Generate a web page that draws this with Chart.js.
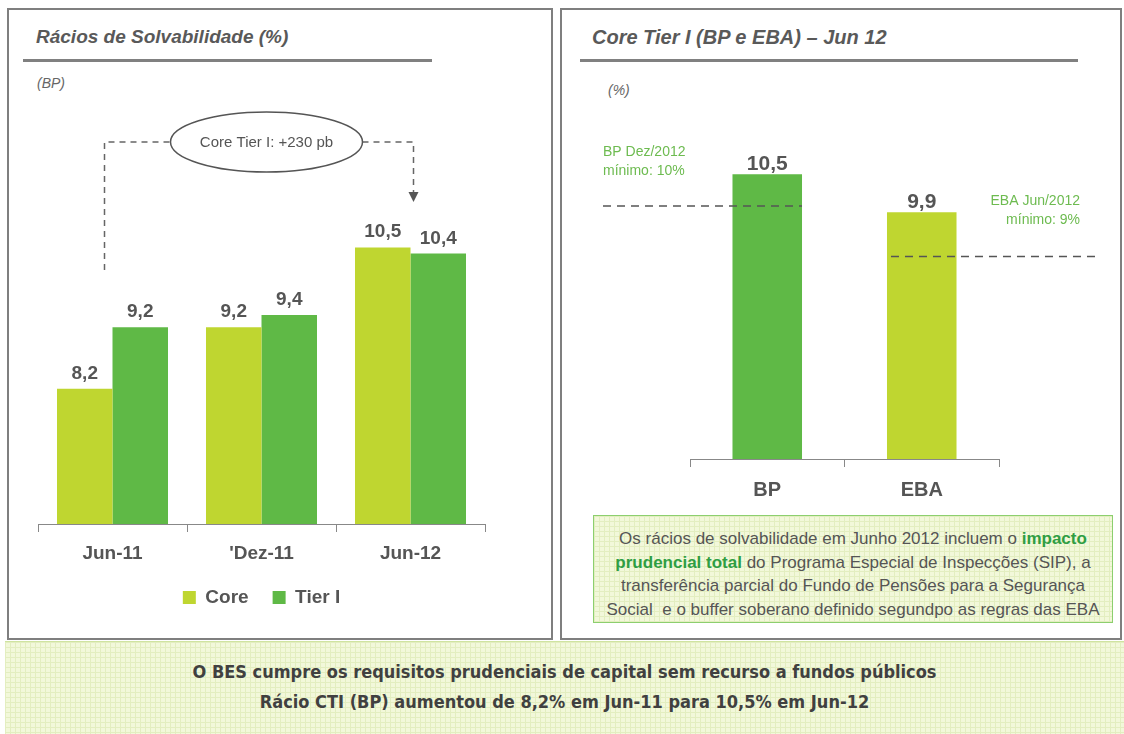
<!DOCTYPE html>
<html>
<head>
<meta charset="utf-8">
<script src="https://cdn.jsdelivr.net/npm/chart.js@4.4.0/dist/chart.umd.min.js"></script>
<style>
  body { margin: 0; width: 1124px; height: 734px; position: relative; overflow: hidden; background: #fff;
         font-family: "Liberation Sans", Arial, sans-serif; color: #595959; }
  .panel { position: absolute; border: 2px solid #7f7f7f; box-sizing: border-box; }
  .title { position: absolute; font-weight: bold; font-style: italic; font-size: 19px; line-height: 20px; white-space: nowrap; color: #595959; }
  .rule { position: absolute; height: 3px; background: #808080; }
  .unit { position: absolute; font-style: italic; font-size: 14px; line-height: 16px; color: #666; }
  canvas { position: absolute; }
  .grid-bg { background-color: #f2f8da;
             background-image: linear-gradient(#e3eec0 1px, transparent 1px), linear-gradient(90deg, #e3eec0 1px, transparent 1px);
             background-size: 5px 5px; }
  #note { position: absolute; left: 593px; top: 515px; width: 520px; height: 108px; box-sizing: border-box;
          border: 1px solid #8ccf6e; text-align: center; font-size: 17px; line-height: 23.7px; padding-top: 11px; color: #555; white-space: nowrap; }
  #note b { color: #2f9e44; }
  #footer { position: absolute; left: 5px; top: 641px; width: 1119px; height: 93px; box-sizing: border-box;
            border-top: 1px solid #cfe3a0; text-align: center; color: #404040; white-space: nowrap;
            font-family: "Liberation Sans Narrow", "DejaVu Sans Condensed", sans-serif; font-weight: bold; font-size: 18px; }
  #footer div { position: absolute; left: 0; width: 100%; }
</style>
</head>
<body>
<div class="panel" style="left:7px;top:8px;width:546px;height:632px"></div>
<div class="panel" style="left:560px;top:8px;width:562px;height:632px"></div>

<div class="title" style="left:36px;top:27px">Rácios de Solvabilidade (%)</div>
<div class="rule" style="left:23px;top:59px;width:409px"></div>
<div class="unit" style="left:37px;top:75px">(BP)</div>

<div class="title" style="left:592px;top:27px;font-size:20px">Core Tier I (BP e EBA) – Jun 12</div>
<div class="rule" style="left:580px;top:59px;width:498px"></div>
<div class="unit" style="left:608px;top:82px">(%)</div>

<canvas id="solvChart" width="544" height="540" style="left:8px;top:90px"></canvas>
<canvas id="ctiChart" width="560" height="410" style="left:561px;top:100px"></canvas>

<div id="note" class="grid-bg">
  Os rácios de solvabilidade em Junho 2012 incluem o <b>impacto</b><br>
  <b>prudencial total</b> do Programa Especial de Inspecções (SIP), a<br>
  transferência parcial do Fundo de Pensões para a Segurança<br>
  Social&nbsp; e o buffer soberano definido segundpo as regras das EBA
</div>

<div id="footer" class="grid-bg">
  <div style="top:19px">O BES cumpre os requisitos prudenciais de capital sem recurso a fundos públicos</div>
  <div style="top:49px">Rácio CTI (BP) aumentou de 8,2% em Jun-11 para 10,5% em Jun-12</div>
</div>

<script>
// left chart: solvency ratios (BP)
const periods = ["Jun-11", "'Dez-11", "Jun-12"];
const coreRatio = [8.2, 9.2, 10.5];
const tier1Ratio = [9.2, 9.4, 10.4];

// right chart: Core Tier I, Jun 12
const ctiCategories = ["BP", "EBA"];
const ctiValues = [10.5, 9.9];
const ctiMinLevels = [10, 9.2]; // dashed minimum lines, level as drawn in the original

const CORE_GREEN = "#bfd630";
const TIER_GREEN = "#5fb946";
const LABEL_GREEN = "#6dbb50";
const GREY = "#555";

const fmt = (v) => v.toFixed(1).replace(".", ",");

// numbers above each bar
const valueLabels = {
  id: "valueLabels",
  afterDatasetsDraw(chart, args, opts) {
    const ctx = chart.ctx;
    ctx.save();
    ctx.font = opts.font;
    ctx.fillStyle = GREY;
    ctx.textAlign = "center";
    ctx.textBaseline = "alphabetic";
    chart.data.datasets.forEach((ds, i) => {
      chart.getDatasetMeta(i).data.forEach((bar, j) => {
        ctx.fillText(fmt(ds.data[j]), bar.x, bar.y - opts.gap);
      });
    });
    ctx.restore();
  },
};

// ellipse + dashed arrow "Core Tier I: +230 pb"
const connector = {
  id: "connector",
  afterDraw(chart) {
    const { ctx, scales } = chart;
    const xl = scales.x.getPixelForValue(0) - 8;
    const xr = scales.x.getPixelForValue(2) + 3;
    const cx = scales.x.getPixelForValue(1) + 5;
    const cy = 52, rx = 96, ry = 30;
    const tip = 112;
    ctx.save();
    ctx.strokeStyle = "#666";
    ctx.lineWidth = 1.5;
    ctx.setLineDash([6, 5]);
    ctx.beginPath();
    ctx.moveTo(xl, 180);
    ctx.lineTo(xl, cy);
    ctx.lineTo(cx - rx, cy);
    ctx.moveTo(cx + rx, cy);
    ctx.lineTo(xr, cy);
    ctx.lineTo(xr, tip - 9);
    ctx.stroke();
    ctx.setLineDash([]);
    ctx.fillStyle = "#555";
    ctx.beginPath();
    ctx.moveTo(xr - 5, tip - 10);
    ctx.lineTo(xr + 5, tip - 10);
    ctx.lineTo(xr, tip);
    ctx.closePath();
    ctx.fill();
    ctx.beginPath();
    ctx.ellipse(cx, cy, rx, ry, 0, 0, Math.PI * 2);
    ctx.fillStyle = "#fff";
    ctx.fill();
    ctx.strokeStyle = "#555";
    ctx.stroke();
    ctx.fillStyle = GREY;
    ctx.font = "15px 'Liberation Sans', Arial";
    ctx.textAlign = "center";
    ctx.textBaseline = "middle";
    ctx.fillText("Core Tier I: +230 pb", cx, cy + 1);
    ctx.restore();
  },
};

// dashed minimum levels and their notes
const minLines = {
  id: "minLines",
  afterDatasetsDraw(chart) {
    const { ctx, chartArea, scales } = chart;
    const bars = chart.getDatasetMeta(0).data;
    const bp = bars[0], eba = bars[1];
    const yBp = scales.y.getPixelForValue(ctiMinLevels[0]);
    const yEba = scales.y.getPixelForValue(ctiMinLevels[1]);
    ctx.save();
    ctx.strokeStyle = "#555";
    ctx.lineWidth = 1.5;
    ctx.setLineDash([8, 6]);
    ctx.beginPath();
    ctx.moveTo(chartArea.left - 87, yBp);
    ctx.lineTo(bp.x + bp.width / 2, yBp);
    ctx.moveTo(eba.x - eba.width / 2 + 4, yEba);
    ctx.lineTo(chartArea.right + 99, yEba);
    ctx.stroke();
    ctx.fillStyle = LABEL_GREEN;
    ctx.font = "14px 'Liberation Sans', Arial";
    ctx.textBaseline = "middle";
    ctx.textAlign = "left";
    ctx.fillText("BP Dez/2012", chartArea.left - 87, 52);
    ctx.fillText("mínimo: 10%", chartArea.left - 87, 71);
    ctx.textAlign = "right";
    ctx.fillText("EBA Jun/2012", chartArea.right + 81, 101);
    ctx.fillText("mínimo: 9%", chartArea.right + 81, 120);
    ctx.restore();
  },
};

const xAxis = (fontSize, pad, height) => ({
  grid: { offset: true, drawOnChartArea: false, drawTicks: true, tickLength: 8, color: "#888" },
  border: { display: true, color: "#888" },
  ticks: { color: GREY, padding: pad, font: { family: "'Liberation Sans', Arial", size: fontSize, weight: "bold" } },
  afterFit: (scale) => { scale.height = height; },
});

new Chart(document.getElementById("solvChart"), {
  type: "bar",
  data: {
    labels: periods,
    datasets: [
      { label: "Core", data: coreRatio, backgroundColor: CORE_GREEN },
      { label: "Tier I", data: tier1Ratio, backgroundColor: TIER_GREEN },
    ],
  },
  options: {
    responsive: false,
    animation: false,
    layout: { padding: { left: 30, right: 67, top: 96, bottom: 13 } },
    categoryPercentage: 0.745,
    barPercentage: 1,
    scales: {
      x: xAxis(19, 10, 40),
      y: { display: false, min: 6, max: 11.5 },
    },
    plugins: {
      legend: {
        position: "bottom",
        labels: { boxWidth: 13, boxHeight: 13, padding: 24, color: GREY,
                  font: { family: "'Liberation Sans', Arial", size: 19, weight: "bold" } },
      },
      tooltip: { enabled: false },
      valueLabels: { font: "bold 19px 'Liberation Sans', Arial", gap: 10 },
    },
  },
  plugins: [valueLabels, connector],
});

new Chart(document.getElementById("ctiChart"), {
  type: "bar",
  data: {
    labels: ctiCategories,
    datasets: [
      { label: "Core Tier I", data: ctiValues, backgroundColor: [TIER_GREEN, CORE_GREEN] },
    ],
  },
  options: {
    responsive: false,
    animation: false,
    layout: { padding: { left: 129, right: 122, top: 11, bottom: 0 } },
    categoryPercentage: 0.45,
    barPercentage: 1,
    scales: {
      x: xAxis(20, 11, 51),
      y: { display: false, min: 6, max: 11.5 },
    },
    plugins: {
      legend: { display: false },
      tooltip: { enabled: false },
      valueLabels: { font: "bold 21px 'Liberation Sans', Arial", gap: 4 },
    },
  },
  plugins: [valueLabels, minLines],
});
</script>
</body>
</html>
